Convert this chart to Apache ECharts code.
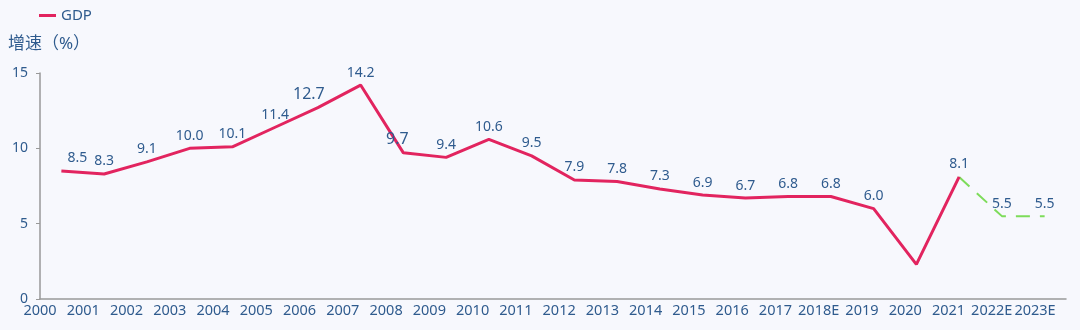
<!DOCTYPE html>
<html>
<head>
<meta charset="utf-8">
<script src="https://cdn.jsdelivr.net/npm/echarts@6/dist/echarts.min.js"></script>
<style>
  html, body { margin: 0; padding: 0; background: #f7f8fd; }
  #chart { width: 1080px; height: 330px; }
</style>
</head>
<body>
<div id="chart"></div>
<script>
// 年份（x轴）
var years = ["2000", "2001", "2002", "2003", "2004", "2005", "2006", "2007", "2008", "2009",
  "2010", "2011", "2012", "2013", "2014", "2015", "2016", "2017", "2018E", "2019",
  "2020", "2021", "2022E", "2023E"];
// GDP 增速，实际值 2000-2021
var gdpActual = [8.5, 8.3, 9.1, 10.0, 10.1, 11.4, 12.7, 14.2, 9.7, 9.4,
  10.6, 9.5, 7.9, 7.8, 7.3, 6.9, 6.7, 6.8, 6.8, 6.0, 2.3, 8.1];
// 预测值 2021-2023E
var gdpForecast = [8.1, 5.5, 5.5];
var yTicks = [0, 5, 10, 15];

var textColor = "#2f5b8e";
var red = "#e2245f";
var green = "#7ddc5a";
var fontFamily = "'Noto Sans', 'Noto Sans CJK SC', sans-serif";

var redData = gdpActual.map(function (v, i) {
  var item = { value: v };
  if (years[i] === "2020") item.label = { show: false };
  if (years[i] === "2006") item.label = { fontSize: 16, offset: [-9, 0] };
  if (years[i] === "2000") item.label = { offset: [16, 0] };
  if (years[i] === "2008") item.label = { fontSize: 16, offset: [-6, 0] };
  return item;
});

var greenData = years.map(function () { return null; });
var start = years.length - gdpForecast.length;
gdpForecast.forEach(function (v, i) {
  greenData[start + i] = i === 0 ? { value: v, label: { show: false } } : v;
});

var chart = echarts.init(document.getElementById("chart"));

var labelStyle = {
  show: true,
  position: "top",
  distance: 5,
  color: textColor,
  fontSize: 14,
  fontFamily: fontFamily,
  formatter: function (p) { return p.value.toFixed(1); }
};

var option = {
  backgroundColor: "#f7f8fd",
  textStyle: { fontFamily: fontFamily },
  legend: {
    data: [{ name: "GDP", itemStyle: { color: red } }],
    left: 34,
    top: 3,
    icon: "rect",
    itemWidth: 17,
    itemHeight: 3,
    itemGap: 8,
    textStyle: { color: textColor, fontSize: 15, fontFamily: fontFamily }
  },
  grid: [
    { left: 40, right: 14, top: 73, bottom: 31 },
    { left: 40, right: 45, top: 73, bottom: 31 }
  ],
  xAxis: [
    {
      type: "category",
      data: years,
      boundaryGap: true,
      axisLine: { lineStyle: { color: "#999", width: 1.5 } },
      axisTick: { show: false },
      axisLabel: { show: false }
    },
    {
      // 仅用于显示年份标签
      type: "category",
      gridIndex: 1,
      data: years,
      boundaryGap: false,
      axisLine: { show: false },
      axisTick: { show: false },
      axisLabel: {
        color: textColor,
        fontSize: 14.5,
        margin: 5,
        interval: 0,
        fontFamily: fontFamily
      }
    }
  ],
  yAxis: [
    {
      type: "value",
      min: yTicks[0],
      max: yTicks[yTicks.length - 1],
      interval: 5,
      name: "增速（%）",
      nameLocation: "end",
      nameGap: 20,
      nameTextStyle: { color: textColor, fontSize: 17, padding: [0, 0, 0, 18], fontFamily: fontFamily },
      axisLine: { show: true, lineStyle: { color: "#999", width: 1.5 } },
      axisTick: { show: true, length: 4, lineStyle: { color: "#999" } },
      splitLine: { show: false },
      axisLabel: { color: textColor, fontSize: 14, margin: 12, fontFamily: fontFamily }
    },
    {
      type: "value",
      gridIndex: 1,
      min: 0,
      max: 15,
      show: false
    }
  ],
  series: [
    {
      name: "GDP",
      type: "line",
      data: redData,
      symbol: "circle",
      symbolSize: 1,
      showSymbol: true,
      itemStyle: { color: "transparent", borderWidth: 0 },
      lineStyle: { color: red, width: 3 },
      label: labelStyle,
      z: 3
    },
    {
      name: "预测",
      type: "line",
      data: greenData,
      symbol: "circle",
      symbolSize: 1,
      showSymbol: true,
      itemStyle: { color: "transparent", borderWidth: 0 },
      lineStyle: { color: green, width: 2, type: [14, 10] },
      label: labelStyle,
      z: 2
    }
  ]
};

chart.setOption(option);
</script>
</body>
</html>
